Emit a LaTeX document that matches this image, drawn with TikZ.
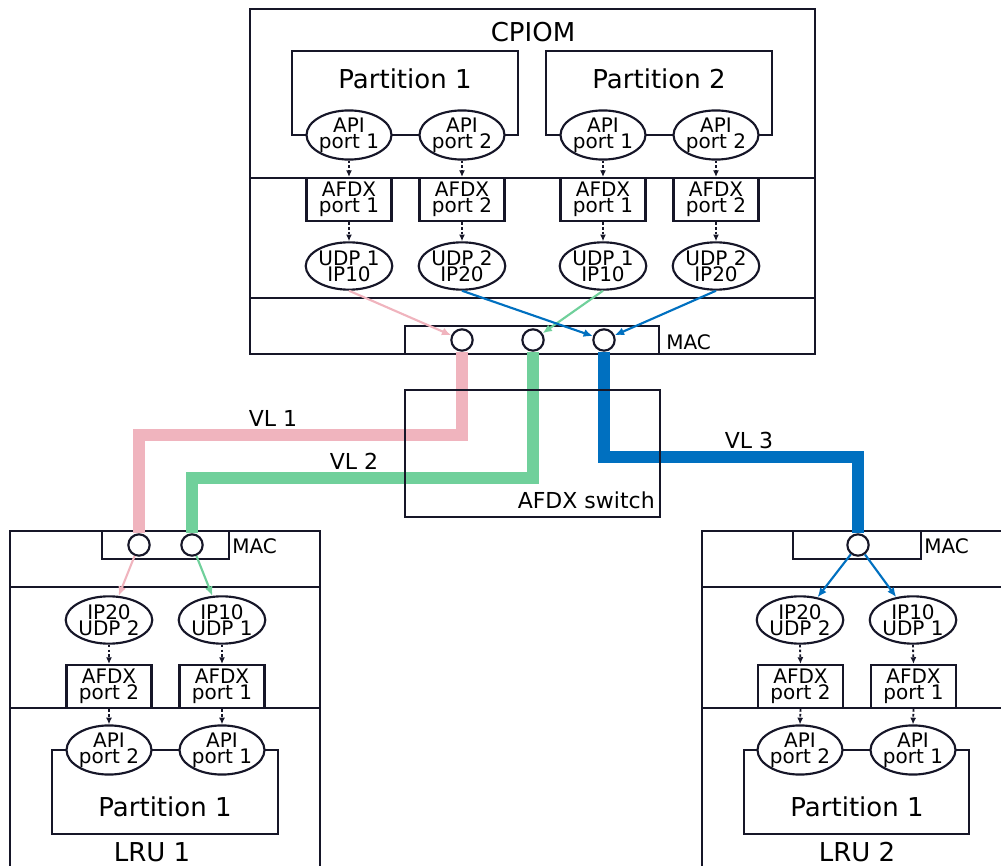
\documentclass[tikz,border=0pt]{standalone}
\usepackage{fontspec}
\setmainfont{DejaVu Sans}
\usetikzlibrary{shapes.geometric,arrows.meta}
\definecolor{vlpink}{RGB}{240,180,190}
\definecolor{vlgreen}{RGB}{112,208,155}
\definecolor{vlblue}{RGB}{0,112,192}
\definecolor{ink}{RGB}{22,22,40}
\begin{document}
\begin{tikzpicture}[x=0.75pt,y=-0.75pt,
  box/.style={draw=ink,line width=1.6pt},
  portell/.style={ellipse,draw=ink,line width=1.6pt,fill=white,minimum width=60pt,minimum height=35.5pt,inner sep=0pt,align=center,font=\fontsize{15}{12}\selectfont},
  afdxbox/.style={rectangle,draw=ink,line width=1.6pt,fill=white,minimum width=63.75pt,minimum height=32.25pt,inner sep=0pt,align=center,font=\fontsize{15}{12.2}\selectfont},
  maccirc/.style={circle,draw=ink,line width=1.6pt,fill=white,minimum size=16pt,inner sep=0pt},
  dflow/.style={draw=ink,line width=1.4pt,dash pattern=on 2pt off 1.6pt,-{Latex[length=5pt,width=4.5pt]}},
  cflow/.style={line width=1.6pt,-{Latex[length=7pt,width=6pt]}},
  vlline/.style={line width=9pt},
  bigtxt/.style={font=\fontsize{19.5}{20}\selectfont,inner sep=0pt},
  midtxt/.style={font=\fontsize{16.5}{18}\selectfont,inner sep=0pt},
  smalltxt/.style={font=\fontsize{15}{16}\selectfont,inner sep=0pt}
]
\clip (0,0) rectangle (1001,866);

% ---------- CPIOM ----------
\draw[box] (250,9) rectangle (815,354);
\draw[box] (250,178) -- (815,178);
\draw[box] (250,298) -- (815,298);
\node[bigtxt] (cpiom) at (533,32) {CPIOM};
\draw[box] (292,51) rectangle (518,135);
\draw[box] (546,51) rectangle (772,135);
\node[bigtxt] (p1) at (405,79) {Partition 1};
\node[bigtxt] (p2) at (659,79) {Partition 2};

\node[portell] (a1) at (349,135) {API\\port 1};
\node[portell] (a2) at (462,135) {API\\port 2};
\node[portell] (a3) at (603,135) {API\\port 1};
\node[portell] (a4) at (716,135) {API\\port 2};

\node[afdxbox] (f1) at (349,199.5) {AFDX\\port 1};
\node[afdxbox] (f2) at (462,199.5) {AFDX\\port 2};
\node[afdxbox] (f3) at (603,199.5) {AFDX\\port 1};
\node[afdxbox] (f4) at (716,199.5) {AFDX\\port 2};

\node[portell] (u1) at (349,266) {UDP 1\\IP10};
\node[portell] (u2) at (462,266) {UDP 2\\IP20};
\node[portell] (u3) at (603,266) {UDP 1\\IP10};
\node[portell] (u4) at (716,266) {UDP 2\\IP20};

\foreach \i in {1,2,3,4}{
  \draw[dflow] (a\i.south) -- (f\i.north);
  \draw[dflow] (f\i.south) -- (u\i.north);
}

\draw[box] (405,326) rectangle (659,354);
\node[smalltxt,anchor=west] (mac0) at (666,342) {MAC};
\node[maccirc] (c1) at (462,340) {};
\node[maccirc] (c2) at (533,340) {};
\node[maccirc] (c3) at (604,340) {};

\draw[cflow,vlpink] (u1.south) -- (c1);
\draw[cflow,vlgreen] (u3.south) -- (c2);
\draw[cflow,vlblue] (u2.south) -- (c3);
\draw[cflow,vlblue] (u4.south) -- (c3);

% ---------- LRU 1 ----------
\draw[box] (10,531) rectangle (320,900);
\draw[box] (10,587) -- (320,587);
\draw[box] (10,708) -- (320,708);
\draw[box] (102,531) rectangle (229,559);
\node[smalltxt,anchor=west] (mac1) at (232,546) {MAC};
\node[maccirc] (l1c1) at (139,545) {};
\node[maccirc] (l1c2) at (192,545) {};
\node[portell] (l1i1) at (109,620) {IP20\\UDP 2};
\node[portell] (l1i2) at (222,620) {IP10\\UDP 1};
\node[afdxbox] (l1f1) at (109,686.5) {AFDX\\port 2};
\node[afdxbox] (l1f2) at (222,686.5) {AFDX\\port 1};
\draw[box] (52,750) rectangle (278,834);
\node[portell] (l1a1) at (109,750) {API\\port 2};
\node[portell] (l1a2) at (222,750) {API\\port 1};
\node[bigtxt] (l1p) at (165,807) {Partition 1};
\node[bigtxt] (l1) at (152,852) {LRU 1};
\foreach \i in {1,2}{
  \draw[dflow] (l1i\i.south) -- (l1f\i.north);
  \draw[dflow] (l1f\i.south) -- (l1a\i.north);
}
\draw[cflow,vlpink] (l1c1) -- (l1i1);
\draw[cflow,vlgreen] (l1c2) -- (l1i2);

% ---------- LRU 2 ----------
\draw[box] (702,531) rectangle (1030,900);
\draw[box] (702,587) -- (1030,587);
\draw[box] (702,708) -- (1030,708);
\draw[box] (793,531) rectangle (921,559);
\node[smalltxt,anchor=west] (mac2) at (924,546) {MAC};
\node[maccirc] (l2c) at (858,545) {};
\node[portell] (l2i1) at (800,620) {IP20\\UDP 2};
\node[portell] (l2i2) at (913,620) {IP10\\UDP 1};
\node[afdxbox] (l2f1) at (800.5,686.5) {AFDX\\port 2};
\node[afdxbox] (l2f2) at (913.5,686.5) {AFDX\\port 1};
\draw[box] (744,750) rectangle (969,834);
\node[portell] (l2a1) at (800,750) {API\\port 2};
\node[portell] (l2a2) at (913,750) {API\\port 1};
\node[bigtxt] (l2p) at (857,807) {Partition 1};
\node[bigtxt] (l2) at (857,852) {LRU 2};
\foreach \i in {1,2}{
  \draw[dflow] (l2i\i.south) -- (l2f\i.north);
  \draw[dflow] (l2f\i.south) -- (l2a\i.north);
}
\draw[cflow,vlblue] (l2c) -- (l2i1);
\draw[cflow,vlblue] (l2c) -- (l2i2);

% ---------- Virtual links ----------
\coordinate (vl1) at (300,435);
\coordinate (vl2) at (300,478);
\coordinate (vl3) at (700,457.5);
\draw[vlline,vlpink] (c1.south) |- (vl1) -| (l1c1.north);
\draw[vlline,vlgreen] (c2.south) |- (vl2) -| (l1c2.north);
\draw[vlline,vlblue] (c3.south) |- (vl3) -| (l2c.north);
\node[midtxt] (vlt1) at (273,418) {VL 1};
\node[midtxt] (vlt2) at (354,461) {VL 2};
\node[midtxt] (vlt3) at (749,440) {VL 3};

% ---------- AFDX switch ----------
\draw[box] (405,390) rectangle (660,517);
\node[midtxt,anchor=east] (sw) at (655,500) {AFDX switch};
\end{tikzpicture}
\end{document}
